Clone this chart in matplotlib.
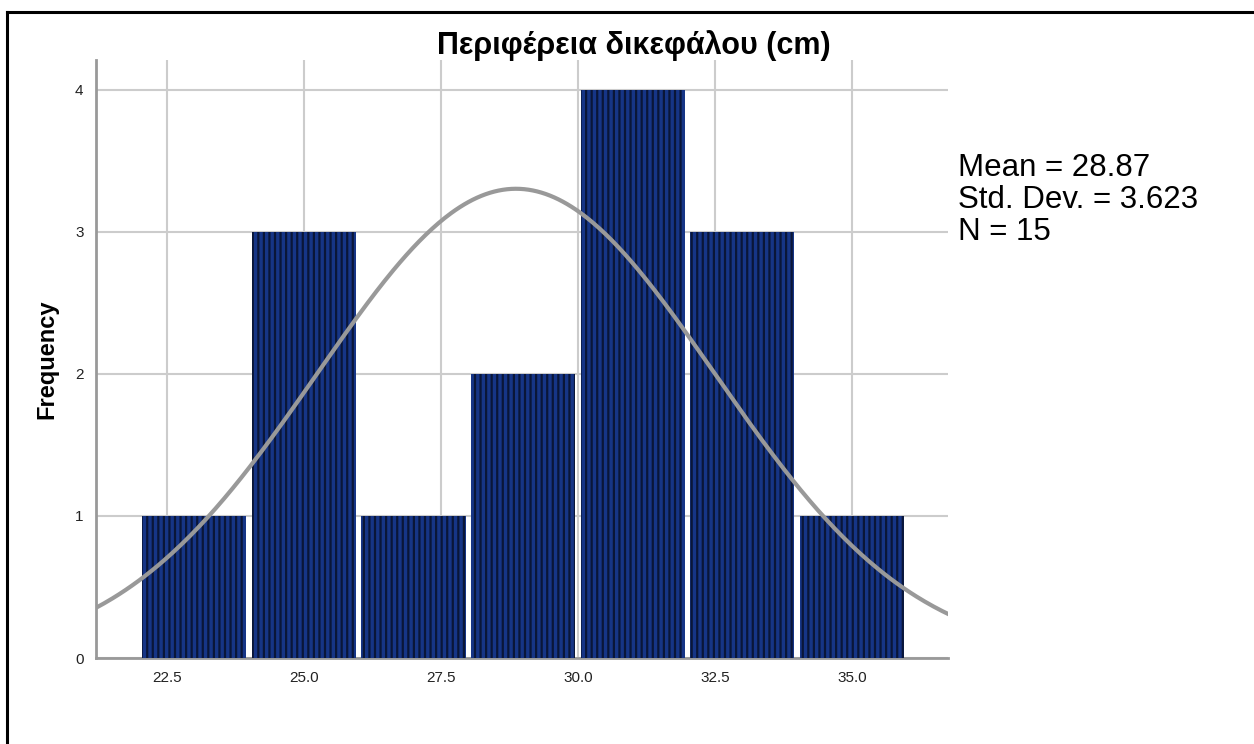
import numpy as np
import matplotlib
matplotlib.use('Agg')
import matplotlib.pyplot as plt
from matplotlib.lines import Line2D

plt.rcParams['font.family'] = ['Liberation Sans', 'DejaVu Sans']
plt.rcParams['hatch.linewidth'] = 1.6

# histogram of the sample, 2 cm bins
bin_left = [22, 24, 26, 28, 30, 32, 34]
counts = [1, 3, 1, 2, 4, 3, 1]
bin_w = 2.0
mean = 28.87
sd = 3.623
n = 15
xticks = [22.5, 25.0, 27.5, 30.0, 32.5, 35.0]
yticks = [0, 1, 2, 3, 4]

fig = plt.figure(figsize=(12.54, 7.44), dpi=100)
ax = fig.add_axes([96 / 1254, 1 - 658 / 744, (948 - 96) / 1254, (658 - 60) / 744])

centers = np.array(bin_left) + bin_w / 2
ax.bar(centers, counts, width=1.9, color='#163586', edgecolor='#0a1638',
       linewidth=0, hatch='|||', zorder=3)

# normal curve scaled to counts
xs = np.linspace(21.2, 36.8, 400)
ys = n * bin_w / (sd * np.sqrt(2 * np.pi)) * np.exp(-0.5 * ((xs - mean) / sd) ** 2)
ax.plot(xs, ys, color='#999999', lw=3, zorder=4, solid_capstyle='butt')

ax.set_xlim(21.21, 36.75)
ax.set_ylim(0, 4.21)
ax.set_xticks(xticks)
ax.set_xticklabels([f'{t:.1f}' for t in xticks])
ax.set_yticks(yticks)
ax.grid(True, color='#cccccc', lw=1.5, zorder=0)
ax.tick_params(length=0, labelsize=11, labelcolor='#222222')
ax.tick_params(axis='x', pad=9)
ax.tick_params(axis='y', pad=9)
for s in ['top', 'right']:
    ax.spines[s].set_visible(False)
for s in ['left', 'bottom']:
    ax.spines[s].set_color('#999999')
    ax.spines[s].set_linewidth(2)

fig.text(634 / 1254, 1 - 46 / 744, 'Περιφέρεια δικεφάλου (cm)', ha='center',
         va='center', fontsize=22, fontweight='bold')
fig.text(47 / 1254, 1 - 359 / 744, 'Frequency', rotation=90, ha='center',
         va='center', fontsize=17, fontweight='bold')
fig.text(958 / 1254, 1 - 200 / 744,
         f'Mean = {mean:.2f}\nStd. Dev. = {sd:.3f}\nN = {n}',
         ha='left', va='center', fontsize=22.5, linespacing=1.1)

# frame along top and left edge
fig.add_artist(Line2D([7 / 1254, 1], [1 - 12 / 744] * 2, color='black', lw=2.2,
                      transform=fig.transFigure))
fig.add_artist(Line2D([7 / 1254] * 2, [0, 1 - 12 / 744], color='black', lw=2.2,
                      transform=fig.transFigure))

fig.savefig('out.png', dpi=100)
